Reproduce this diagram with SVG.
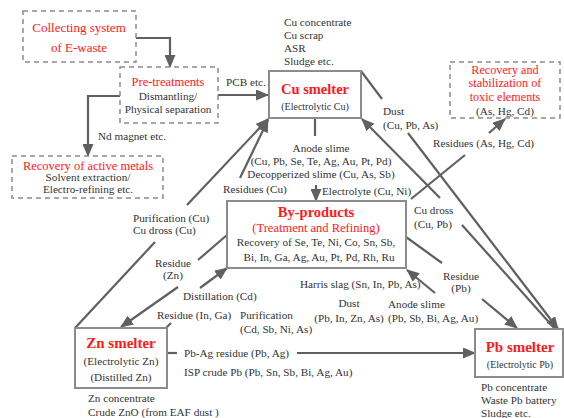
<svg xmlns="http://www.w3.org/2000/svg" width="564" height="418" viewBox="0 0 564 418">
<defs>
<marker id="ah" markerUnits="userSpaceOnUse" markerWidth="13" markerHeight="11" refX="12" refY="5.5" orient="auto">
<path d="M0,0 L13,5.5 L0,11 z" fill="#606060"/>
</marker>
</defs>
<style>
text{font-family:"Liberation Serif","Times New Roman",Times,serif;fill:#333;font-size:11.2px}
.red{fill:#ff1a1a}
.b{font-weight:bold}
.c{text-anchor:middle}
.dash{fill:#fff;stroke:#8c8c8c;stroke-width:1.5;stroke-dasharray:5,4}
.solid{fill:#fff;stroke:#8c8c8c;stroke-width:2}
.ln{fill:none;stroke:#606060;stroke-width:2.2}
.arr{marker-end:url(#ah)}
</style>
<rect width="564" height="418" fill="#fff"/>

<g id="connectors">
<polyline class="ln arr" points="136,38 170,38 170,67"/>
<line class="ln arr" x1="218" y1="95" x2="268" y2="95"/>
<polyline class="ln arr" points="120,96 88,96 88,156"/>
<line class="ln" x1="361" y1="71" x2="382" y2="99"/>
<line class="ln arr" x1="408" y1="133" x2="558" y2="329"/>
<line class="ln" x1="555" y1="329" x2="462" y2="225"/>
<line class="ln arr" x1="440" y1="198" x2="362" y2="119"/>
<line class="ln" x1="411" y1="199" x2="465" y2="155"/>
<line class="ln arr" x1="489" y1="133" x2="505" y2="119"/>
<line class="ln" x1="315" y1="118" x2="315" y2="136"/>
<line class="ln arr" x1="316" y1="185" x2="316" y2="201"/>
<line class="ln" x1="75" y1="328" x2="155" y2="242"/>
<line class="ln arr" x1="187" y1="205" x2="268" y2="119"/>
<line class="ln arr" x1="240" y1="178" x2="268" y2="120"/>
<line class="ln" x1="227" y1="235" x2="198" y2="260"/>
<line class="ln arr" x1="178" y1="287" x2="121" y2="327"/>
<line class="ln" x1="166" y1="328" x2="171" y2="323"/>
<line class="ln arr" x1="200" y1="288" x2="227" y2="268"/>
<line class="ln" x1="167" y1="353" x2="177" y2="353"/>
<line class="ln arr" x1="297" y1="353" x2="475" y2="353"/>
<line class="ln" x1="406" y1="237" x2="442" y2="263"/>
<line class="ln arr" x1="482" y1="299" x2="517" y2="328"/>
<line class="ln arr" x1="435" y1="293" x2="407" y2="270"/>
</g>

<g id="collecting">
<rect class="dash" x="23" y="11" width="113" height="51"/>
<text class="red c" x="79" y="32" style="font-size:13px">Collecting system</text>
<text class="red c" x="79" y="52" style="font-size:13px">of E-waste</text>
</g>

<g id="pretreatments">
<rect class="dash" x="120" y="67" width="98" height="56"/>
<text class="red c" x="168" y="86" style="font-size:12.5px">Pre-treatments</text>
<text class="c" x="168" y="99.5">Dismantling/</text>
<text class="c" x="168" y="112.5">Physical separation</text>
</g>
<text x="226" y="85.5">PCB etc.</text>
<text x="98" y="139.5">Nd magnet etc.</text>

<g id="recovery-active">
<rect class="dash" x="12" y="156" width="151" height="42"/>
<text class="red c" x="88" y="169.5" style="font-size:12.5px">Recovery of active metals</text>
<text class="c" x="88" y="181">Solvent extraction/</text>
<text class="c" x="88" y="192.5">Electro-refining etc.</text>
</g>

<g id="cu-smelter">
<rect class="solid" x="269" y="71" width="92" height="47"/>
<text class="red b c" x="315" y="94" style="font-size:14.5px">Cu smelter</text>
<text class="c" x="315" y="109.5" style="font-size:10px">(Electrolytic Cu)</text>
</g>
<g id="cu-inputs">
<text x="284" y="26">Cu concentrate</text>
<text x="284" y="39">Cu scrap</text>
<text x="284" y="52">ASR</text>
<text x="284" y="65">Sludge etc.</text>
</g>

<g id="recovery-toxic">
<rect class="dash" x="450" y="62" width="110" height="56"/>
<text class="red c" x="505" y="74" style="font-size:12.2px">Recovery  and</text>
<text class="red c" x="505" y="87" style="font-size:12.2px">stabilization of</text>
<text class="red c" x="505" y="100.5" style="font-size:12.2px">toxic elements</text>
<text class="c" x="505" y="114.5">(As,  Hg, Cd)</text>
</g>

<g id="labels">
<text x="383" y="114.5">Dust</text>
<text x="383" y="128.5">(Cu, Pb, As)</text>
<text x="433" y="146.5">Residues (As, Hg, Cd)</text>
<text class="c" x="321" y="151.5">Anode slime</text>
<text class="c" x="321" y="164.5">(Cu, Pb, Se, Te, Ag, Au, Pt, Pd)</text>
<text class="c" x="321" y="177.5">Decopperized slime (Cu, As, Sb)</text>
<text x="223" y="192.5">Residues (Cu)</text>
<text x="322" y="194.5">Electrolyte (Cu, Ni)</text>
<text x="414" y="213.5">Cu dross</text>
<text x="414" y="227.5">(Cu, Pb)</text>
<text x="133" y="221.5">Purification (Cu)</text>
<text x="133" y="233.5">Cu dross (Cu)</text>
<text class="c" x="173" y="266.5">Residue</text>
<text class="c" x="173" y="278.5">(Zn)</text>
<text class="c" x="461" y="279.5">Residue</text>
<text class="c" x="461" y="291.5">(Pb)</text>
<text x="300" y="287.5">Harris slag (Sn, In, Pb, As)</text>
<text x="183" y="299.5">Distillation (Cd)</text>
<text class="c" x="349" y="307">Dust</text>
<text class="c" x="349" y="321.5">(Pb, In, Zn, As)</text>
<text x="388" y="307.5">Anode slime</text>
<text x="388" y="322">(Pb, Sb, Bi, Ag, Au)</text>
<text x="157" y="318.5">Residue (In, Ga)</text>
<text x="240" y="318.5">Purification</text>
<text x="240" y="332.5">(Cd, Sb, Ni, As)</text>
<text x="184" y="356.5">Pb-Ag residue (Pb, Ag)</text>
<text x="184" y="375.5">ISP crude Pb (Pb, Sn, Sb, Bi, Ag, Au)</text>
</g>

<g id="by-products">
<rect class="solid" x="227" y="201" width="179" height="67"/>
<text class="red b c" x="316" y="217" style="font-size:14.5px">By-products</text>
<text class="red c" x="316" y="232" style="font-size:12.5px">(Treatment and Refining)</text>
<text class="c" x="316" y="245.5">Recovery of Se, Te, Ni, Co, Sn, Sb,</text>
<text class="c" x="319" y="260.5">Bi, In, Ga, Ag, Au, Pt, Pd, Rh, Ru</text>
</g>

<g id="zn-smelter">
<rect class="solid" x="75" y="328" width="92" height="60"/>
<text class="red b c" x="121" y="348" style="font-size:15px">Zn smelter</text>
<text class="c" x="121" y="364.5">(Electrolytic Zn)</text>
<text class="c" x="121" y="380.5">(Distilled Zn)</text>
</g>
<g id="zn-inputs">
<text x="88" y="401.5">Zn concentrate</text>
<text x="88" y="416">Crude ZnO (from EAF dust )</text>
</g>

<g id="pb-smelter">
<rect class="solid" x="475" y="329" width="88" height="48"/>
<text class="red b c" x="520" y="352" style="font-size:15px">Pb smelter</text>
<text class="c" x="520" y="367.5" style="font-size:10px">(Electrolytic Pb)</text>
</g>
<g id="pb-inputs">
<text x="481" y="390.5">Pb concentrate</text>
<text x="481" y="403.5">Waste Pb battery</text>
<text x="481" y="417">Sludge etc.</text>
</g>
</svg>
